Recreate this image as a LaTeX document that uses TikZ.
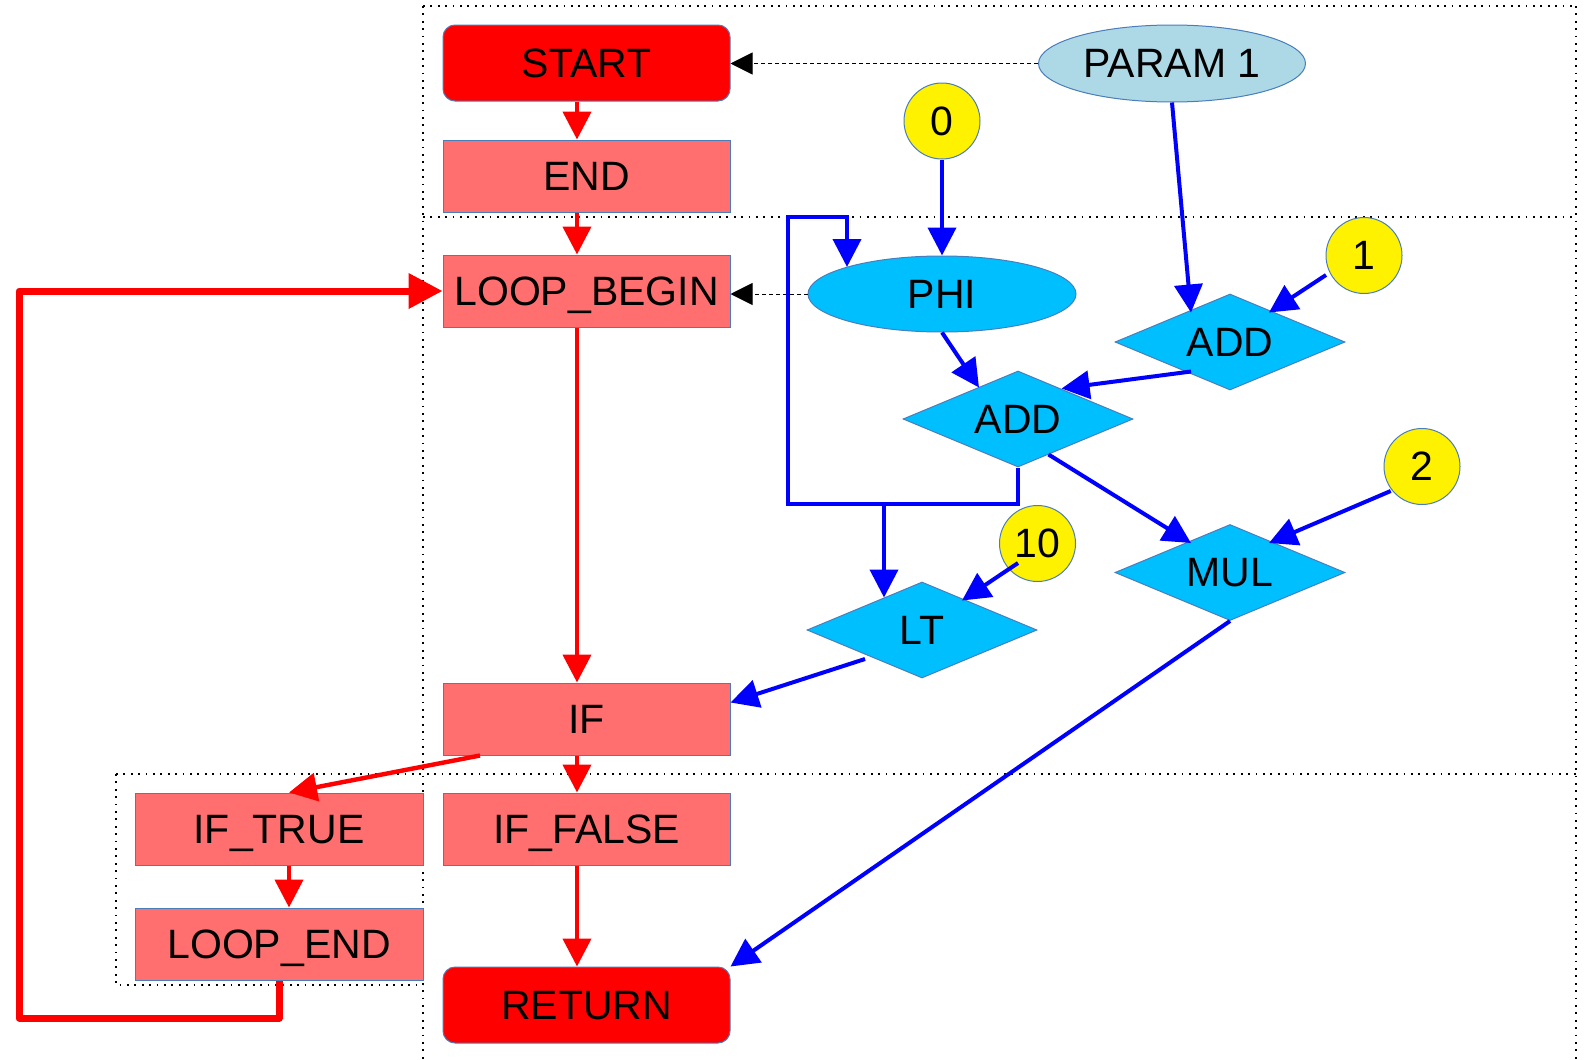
\documentclass[tikz,border=0pt]{standalone}
\usepackage{fontspec}
\setmainfont{Liberation Sans}
\usetikzlibrary{shapes.geometric,arrows.meta,calc}
\definecolor{lred}{HTML}{FF6F6F}
\definecolor{nborder}{HTML}{4A7EBB}
\definecolor{phiblue}{HTML}{00BFFF}
\definecolor{parblue}{HTML}{ADD8E6}
\begin{document}
\begin{tikzpicture}[x=0.5pt,y=-0.5pt,
  every node/.style={font=\fontsize{20.5pt}{24pt}\selectfont, text depth=0pt},
  box/.style={rectangle, draw=nborder, line width=0.5pt, fill=lred, minimum width=143.5pt, minimum height=36pt, inner sep=0pt},
  term/.style={box, fill=red, rounded corners=6pt, minimum height=38pt},
  val/.style={ellipse, draw=nborder, line width=0.5pt, fill=yellow, minimum width=38pt, minimum height=38pt, inner sep=0pt},
  op/.style={diamond, draw=nborder, line width=0.5pt, fill=phiblue, minimum width=115pt, minimum height=48pt, inner sep=0pt, aspect=2.4},
  cf/.style={draw=red, line width=2.2pt, -{Triangle[length=14pt,width=14pt]}},
  df/.style={draw=blue, line width=2pt, -{Triangle[length=14pt,width=14pt]}},
  dep/.style={draw=black, line width=0.5pt, dash pattern=on 2pt off 1.5pt, -{Triangle[length=11pt,width=11pt]}},
  loopedge/.style={draw=red, line width=3.5pt, line join=round, -{Triangle[length=17pt,width=17pt]}},
  cluster/.style={draw=black, line width=0.8pt, dash pattern=on 0.9pt off 2.8pt}]
\useasboundingbox (0,0) rectangle (1585,1060);
% clusters
\draw[cluster] (423,6) -- (1576,6);
\draw[cluster] (423,217) -- (1576,217);
\draw[cluster] (116,774) -- (1576,774);
\draw[cluster] (423,6) -- (423,1060);
\draw[cluster] (1576,6) -- (1576,1060);
\draw[cluster] (116,774) -- (116,985) -- (423,985);
% control nodes
\node[term] (start) at (586.5,63) {START};
\node[box] (end) at (586.5,176) {END};
\node[box] (lb) at (586.5,291) {LOOP\_BEGIN};
\node[box] (if) at (586.5,719) {IF};
\node[box] (iff) at (586.5,829) {IF\_FALSE};
\node[term] (ret) at (586.5,1005) {RETURN};
\node[box, minimum width=144pt] (ift) at (279,829) {IF\_TRUE};
\node[box, minimum width=144pt] (le) at (279,944) {LOOP\_END};
% data nodes
\node[ellipse, draw=nborder, line width=0.5pt, fill=parblue, minimum width=133.5pt, minimum height=38.5pt, inner sep=0pt] (param) at (1172,63.5) {PARAM 1};
\node[val] (zero) at (942,121) {0};
\node[ellipse, draw=nborder, line width=0.5pt, fill=phiblue, minimum width=134pt, minimum height=38pt, inner sep=0pt] (phi) at (942,294) {PHI};
\node[op] (add1) at (1230,342) {ADD};
\node[op] (add2) at (1018,419) {ADD};
\node[op] (mul) at (1230,572.5) {MUL};
\node[op] (lt) at (922,630) {LT};
\node[val] (one) at (1364,255.5) {1};
\node[val] (two) at (1422,466.5) {2};
\node[val] (ten) at (1037.5,543.5) {10};
% control edges
\draw[cf] ($(start.south)+(-9.5,0)$) -- ($(end.north)+(-9.5,0)$);
\draw[cf] ($(end.south)+(-9.5,0)$) -- ($(lb.north)+(-9.5,0)$);
\draw[cf] ($(lb.south)+(-9.5,0)$) -- ($(if.north)+(-9.5,0)$);
\draw[cf] ($(if.south)+(-9.5,0)$) -- ($(iff.north)+(-9.5,0)$);
\draw[cf] ($(iff.south)+(-9.5,0)$) -- ($(ret.north)+(-9.5,0)$);
\draw[cf] ($(if.south)+(-106.5,0)$) -- ($(ift.north)+(10,0)$);
\draw[cf] ($(ift.south)+(10,0)$) -- ($(le.north)+(10,0)$);
\coordinate (lc) at (19,1018);
\draw[loopedge] (le.south) |- (lc) |- (lb.west);
% dependency edges
\draw[dep] (param.west) -- (param.west -| start.east);
\draw[dep] (phi.west) -- (phi.west -| lb.east);
% data edges
\draw[df] (zero.south) -- (phi.north);
\draw[df] (param.south) -- ($(add1.north)+(-39,19)$);
\draw[df] ($(one.center)+(-38,19.5)$) -- ($(add1.north)+(39,19)$);
\draw[df] ($(add1.south)+(-39,-19)$) -- ($(add2.north)+(43.6,18)$);
\draw[df] (phi.south) -- ($(add2.north)+(-39,17)$);
\draw[df] ($(add2.south)+(30.5,-13)$) -- ($(mul.north)+(-39,19)$);
\draw[df] ($(two.center)+(-31.3,24.5)$) -- ($(mul.north)+(39,19)$);
\draw[df] ($(ten.center)+(-19.5,19.5)$) -- ($(lt.north)+(40,19)$);
\draw[df] ($(lt.center)+(-57,29)$) -- ($(if.east)+(0,-16.5)$);
\draw[df] (mul.south) -- (ret.north east);
\coordinate (bl) at (788,504);
\coordinate (tl) at (788,217);
\draw[df, line join=miter] (add2.south) |- (bl) -- (tl) -| ($(phi.center)+(-95,-27)$);
\draw[df, line join=miter] (add2.south) -- (add2.south |- bl) -| ($(lt.north)+(-38,16)$);
\end{tikzpicture}
\end{document}
